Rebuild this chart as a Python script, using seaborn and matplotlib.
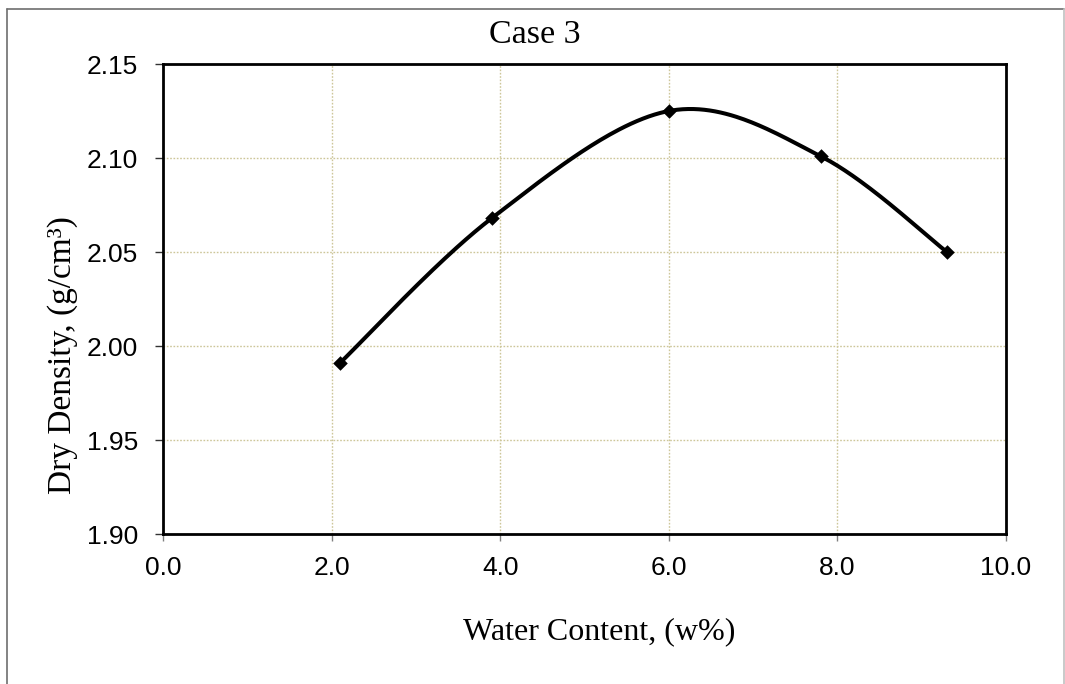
import numpy as np
import pandas as pd
import seaborn as sns
import matplotlib
matplotlib.use("Agg")
import matplotlib.pyplot as plt
from matplotlib.lines import Line2D

# Compaction test results
water_content = [2.1, 3.9, 6.0, 7.8, 9.3]
dry_density = [1.991, 2.068, 2.125, 2.101, 2.050]

x_ticks = [0.0, 2.0, 4.0, 6.0, 8.0, 10.0]
y_ticks = [1.90, 1.95, 2.00, 2.05, 2.10, 2.15]
title = "Case 3"
x_label = "Water Content, (w%)"
y_label = "Dry Density, (g/cm\u00b3)"


def smooth_curve(xs, ys, n=60):
    """Spreadsheet-style smoothed line: cubic Bezier segments (Catmull-Rom, tension 1/6)."""
    P = np.column_stack([xs, ys]).astype(float)
    P = np.vstack([P[0], P, P[-1]])
    out = []
    t = np.linspace(0, 1, n)[:, None]
    for i in range(1, len(P) - 2):
        p0, p1, p2, p3 = P[i - 1], P[i], P[i + 1], P[i + 2]
        c1 = p1 + (p2 - p0) / 6.0
        c2 = p2 - (p3 - p1) / 6.0
        seg = ((1 - t) ** 3) * p1 + 3 * ((1 - t) ** 2) * t * c1 + 3 * (1 - t) * t ** 2 * c2 + t ** 3 * p2
        out.append(seg if i == 1 else seg[1:])
    curve = np.vstack(out)
    return curve[:, 0], curve[:, 1]


sns.set_theme(style="white")
plt.rcParams["font.family"] = ["Liberation Sans", "DejaVu Sans"]

W, H = 1065, 684
fig = plt.figure(figsize=(W / 100, H / 100), dpi=100)
ax = fig.add_axes([163 / W, 1 - 534 / H, (1006 - 163) / W, (534 - 64) / H])

cx, cy = smooth_curve(water_content, dry_density)
curve_df = pd.DataFrame({"w": cx, "rho": cy})
pts_df = pd.DataFrame({"w": water_content, "rho": dry_density})

sns.lineplot(data=curve_df, x="w", y="rho", sort=False, color="black", linewidth=2.9, ax=ax, zorder=3)
sns.scatterplot(data=pts_df, x="w", y="rho", marker="D", s=55, color="black",
                edgecolor="black", linewidth=0, ax=ax, zorder=4)

ax.set_xlim(0, 10)
ax.set_ylim(1.90, 2.15)
ax.set_xticks(x_ticks)
ax.set_yticks(y_ticks)
ax.set_xticklabels([f"{v:.1f}" for v in x_ticks])
ax.set_yticklabels([f"{v:.2f}" for v in y_ticks])

ax.grid(True, color="#cdc699", linestyle=(0, (1.2, 1.2)), linewidth=1.0)
ax.set_axisbelow(True)

for side in ["left", "right", "top", "bottom"]:
    ax.spines[side].set_visible(True)
    ax.spines[side].set_color("black")
    ax.spines[side].set_linewidth(2.0)

ax.tick_params(axis="y", direction="out", length=6, width=1.0, color="#333333",
               labelsize=19, pad=12, left=True)
ax.tick_params(axis="x", direction="out", length=5, width=1.0, color="#808080",
               labelsize=19, pad=11, bottom=True)
for lab in ax.get_xticklabels() + ax.get_yticklabels():
    lab.set_color("black")

serif = ["Liberation Serif", "DejaVu Serif"]
ax.set_xlabel(x_label, family=serif, fontsize=23, color="black", va="center", ha="center")
ax.xaxis.set_label_coords((599.5 - 163) / (1006 - 163), (534 - 632) / (534 - 64))
ax.set_ylabel(y_label, family=serif, fontsize=24, color="black", va="center", ha="center")
ax.yaxis.set_label_coords((63 - 163) / (1006 - 163), (534 - 355) / (534 - 64))
fig.text(535 / W, 1 - 35 / H, title, family=serif, fontsize=24.5, color="black",
         ha="center", va="center")

# outer chart frame (open at the bottom edge)
fig.add_artist(Line2D([7 / W, 7 / W], [0, 1 - 9 / H], color="#6e6e6e", linewidth=1.2,
                      transform=fig.transFigure))
fig.add_artist(Line2D([7 / W, 1064 / W], [1 - 9 / H, 1 - 9 / H], color="#6e6e6e", linewidth=1.2,
                      transform=fig.transFigure))
fig.add_artist(Line2D([1064 / W, 1064 / W], [0, 1 - 9 / H], color="#c0c0c0", linewidth=1.2,
                      transform=fig.transFigure))

fig.savefig("out.png", dpi=100)
